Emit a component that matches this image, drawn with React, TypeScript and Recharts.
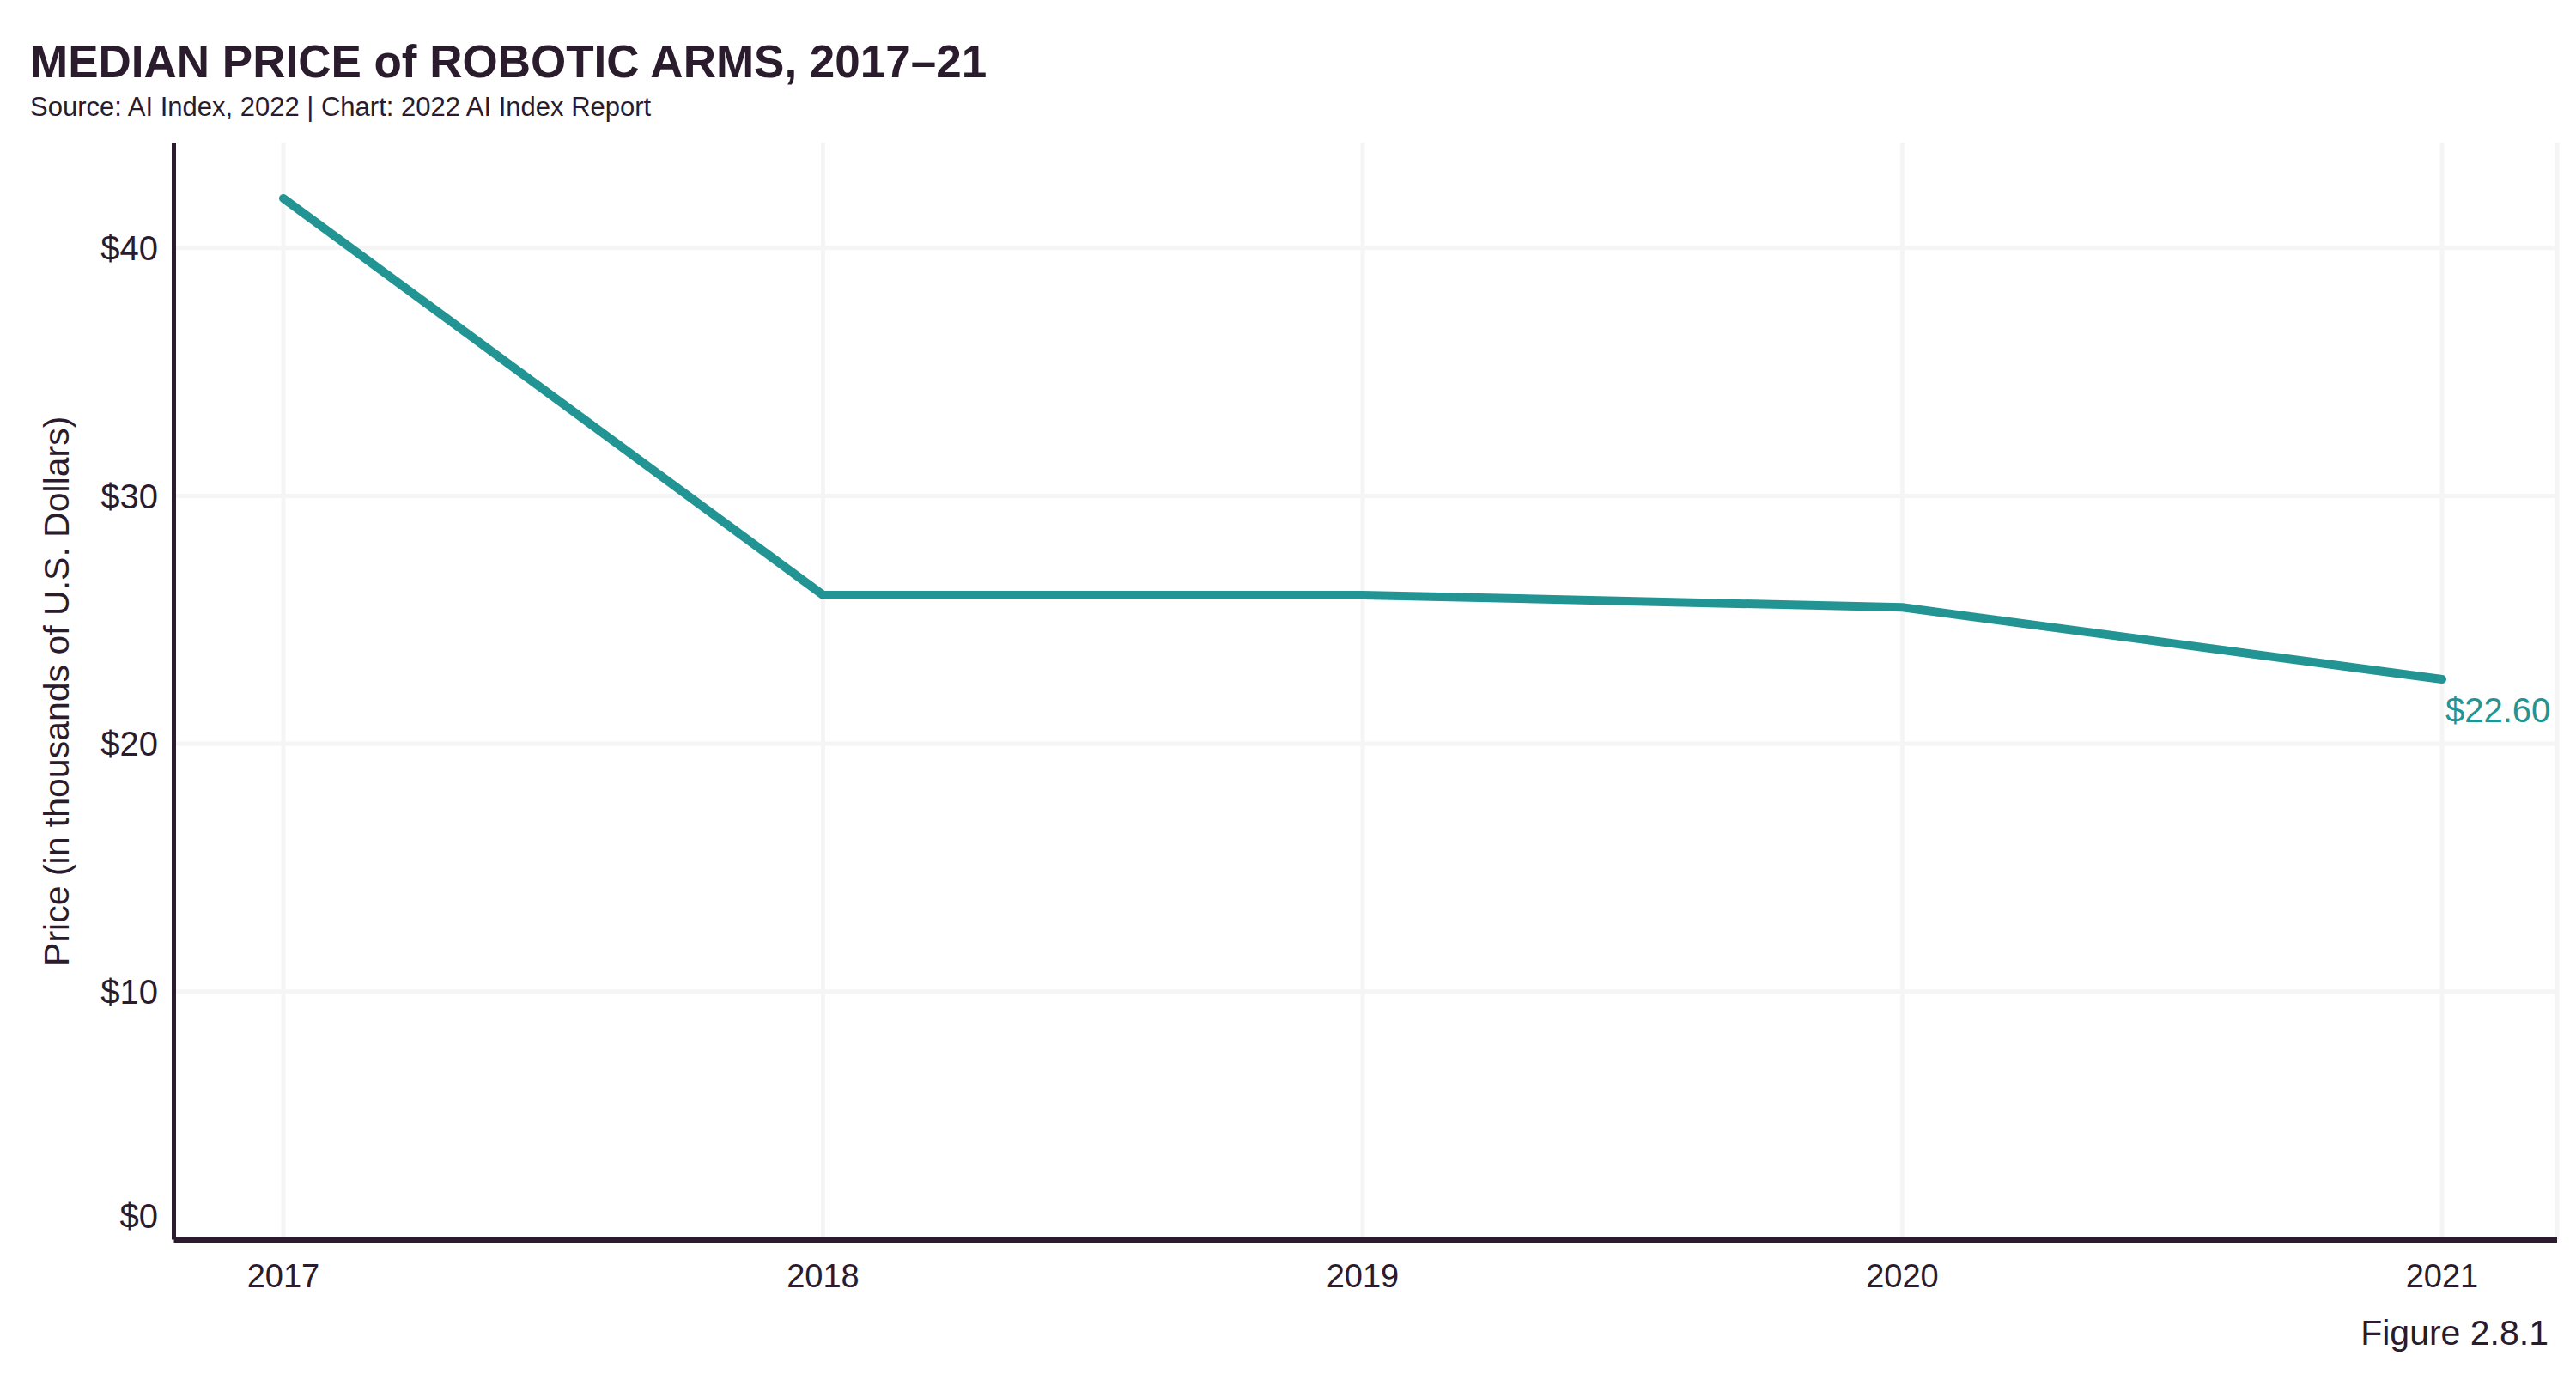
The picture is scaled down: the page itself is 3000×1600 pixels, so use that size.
import React from 'react';
import { LineChart, Line, XAxis, YAxis, CartesianGrid, LabelList } from 'recharts';

const years = ['2017', '2018', '2019', '2020', '2021'];
const medianPrice = [42.0, 26.0, 26.0, 25.5, 22.6];
const yTicks = [0, 10, 20, 30, 40];
const gridValues = [10, 20, 30, 40];

const data = years.map((year, i) => ({ year, price: medianPrice[i] }));

const INK = '#2a1b2d';
const TEAL = '#239494';
const FONT = '"Liberation Sans", Arial, sans-serif';

const YTick = (props: any) => {
  const { x, y, payload } = props;
  // plotly lifts the $0 label off the axis line
  const shift = payload.value === 0 ? -28 : 0;
  return (
    <text x={x} y={y + shift} dy="0.355em" textAnchor="end" fill={INK} fontSize={40} fontFamily={FONT}>
      {`$${payload.value}`}
    </text>
  );
};

const YLabel = (props: any) => {
  const { viewBox } = props;
  const cy = viewBox.y + viewBox.height / 2;
  return (
    <text x={80} y={cy} transform={`rotate(-90 80 ${cy})`} textAnchor="middle" fill={INK} fontSize={41} fontFamily={FONT}>
      Price (in thousands of U.S. Dollars)
    </text>
  );
};

const EndLabel = (props: any) => {
  const { x, y, index } = props;
  if (index !== data.length - 1) return null;
  return (
    <text x={x + 4} y={y + 50} fill={TEAL} fontSize={40} fontFamily={FONT}>
      {`$${medianPrice[index].toFixed(2)}`}
    </text>
  );
};

export default function App() {
  return (
    <div style={{ position: 'absolute', left: 0, top: 0, width: 3000, height: 1600, background: '#fff' }}>
      <LineChart
        width={3000}
        height={1600}
        data={data}
        margin={{ top: 166, right: 22, bottom: 96.5, left: 0 }}
      >
        <CartesianGrid stroke="#f5f5f5" strokeWidth={5} horizontalValues={gridValues} />
        <XAxis
          dataKey="year"
          height={60}
          padding={{ left: 127.5, right: 134 }}
          axisLine={{ stroke: INK, strokeWidth: 7 }}
          tickLine={false}
          tickSize={0}
          tickMargin={28.5}
          tick={{ fill: INK, fontSize: 38, fontFamily: FONT }}
        />
        <YAxis
          width={202.5}
          domain={[0, 44.25]}
          ticks={yTicks}
          axisLine={{ stroke: INK, strokeWidth: 5 }}
          tickLine={false}
          tickSize={0}
          tickMargin={18.5}
          tick={<YTick />}
          label={<YLabel />}
        />
        <Line
          type="linear"
          dataKey="price"
          stroke={TEAL}
          strokeWidth={10}
          strokeLinecap="round"
          dot={false}
          activeDot={false}
          isAnimationActive={false}
        >
          <LabelList dataKey="price" content={<EndLabel />} />
        </Line>
      </LineChart>
      <svg width={3000} height={1600} style={{ position: 'absolute', left: 0, top: 0, pointerEvents: 'none' }}>
        <text x={35} y={90} fill={INK} fontSize={53} fontWeight="bold" fontFamily={FONT}>
          MEDIAN PRICE of ROBOTIC ARMS, 2017–21
        </text>
        <text x={35} y={135} fill={INK} fontSize={31} fontFamily={FONT}>
          Source: AI Index, 2022 | Chart: 2022 AI Index Report
        </text>
        <text x={2968} y={1566} textAnchor="end" fill={INK} fontSize={41} fontFamily={FONT}>
          Figure 2.8.1
        </text>
      </svg>
    </div>
  );
}
